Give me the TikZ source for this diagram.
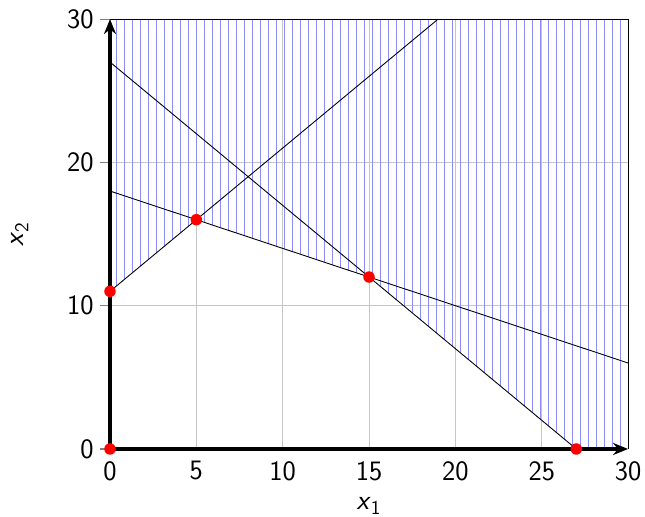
\documentclass[tikz,border=0pt]{standalone}
\usetikzlibrary{arrows.meta}

\begin{document}
\begin{tikzpicture}[x=0.3454cm,y=0.2866cm,
    font=\sffamily\fontsize{16}{18}\selectfont,
    gridline/.style={gray!45,line width=0.6pt},
    hatch/.style={blue!45,line width=0.02cm},
    bound/.style={black,line width=0.5pt},
    axisline/.style={line width=1.9pt,-{Stealth[length=0.3cm,width=0.24cm]}},
    vertex/.style={circle,fill=red,inner sep=0pt,minimum size=0.23cm}]
  \useasboundingbox (-2.2cm,-1.36cm) rectangle (10.7cm,8.98cm);
  \coordinate (O) at (0,0);
  \coordinate (xend) at (30,0);
  \coordinate (yend) at (0,30);
  \coordinate (corner) at (30,30);
  % grid
  \foreach \x in {5,10,...,25} \draw[gridline] (\x,0) -- (\x,30);
  \foreach \y in {10,20} \draw[gridline] (0,\y) -- (30,\y);
  % hatched (infeasible) part
  \begin{scope}
    \clip (0,11) -- (5,16) -- (15,12) -- (27,0) -- (30,0) -- (30,30) -- (0,30) -- cycle;
    \foreach \i in {0,...,64} \draw[hatch] ([xshift=0.13cm+0.16cm*\i]O) -- ++(0,30);
  \end{scope}
  % constraints
  \coordinate (a1) at (0,11);  \coordinate (a2) at (19,30);
  \coordinate (b1) at (0,18);  \coordinate (b2) at (30,6);
  \coordinate (c1) at (0,27);  \coordinate (c2) at (27,0);
  \draw[bound] (a1) -- (a2);
  \draw[bound] (b1) -- (b2);
  \draw[bound] (c1) -- (c2);
  % frame and axes
  \draw[line width=0.6pt] (yend) -- (corner) -- (xend);
  \foreach \y in {0,10,20,30} \draw[gray,line width=0.6pt] (0,\y) -- ++(-0.2cm,0);
  \draw[axisline] (O) -- (xend);
  \draw[axisline] (O) -- (yend);
  % tick labels
  \foreach \x in {0,5,...,30} \node (xl\x) at ([yshift=-0.44cm]\x,0) {\x};
  \foreach \y in {0,10,20,30} \node[anchor=east,inner sep=0pt] (yl\y) at ([xshift=-0.32cm]0,\y) {\y};
  \node (xlab) at ([yshift=-1.14cm]15,0) {\textit{x}\textsubscript{1}};
  \node[rotate=90] (ylab) at ([xshift=-1.8cm]0,15) {\textit{x}\textsubscript{2}};
  % vertices
  \node[vertex] (v1) at (0,0) {};
  \node[vertex] (v2) at (0,11) {};
  \node[vertex] (v3) at (5,16) {};
  \node[vertex] (v4) at (15,12) {};
  \node[vertex] (v5) at (27,0) {};
\end{tikzpicture}
\end{document}
